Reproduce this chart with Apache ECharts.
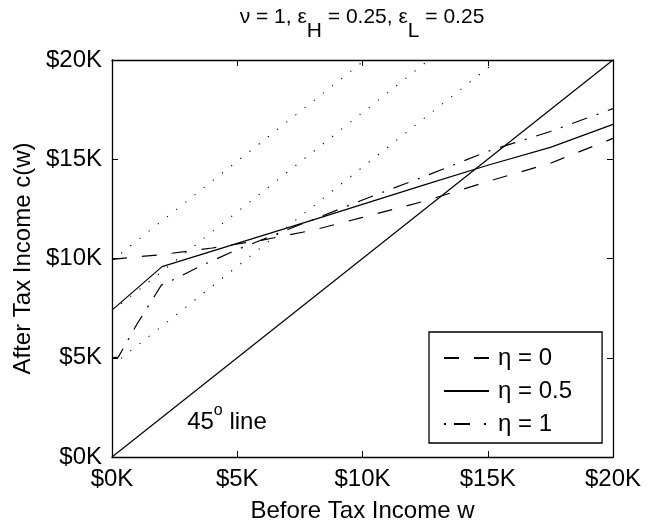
<!DOCTYPE html>
<html>
<head>
<meta charset="utf-8">
<script src="https://cdn.jsdelivr.net/npm/echarts@6/dist/echarts.min.js"></script>
<style>html,body{margin:0;padding:0;background:#fff}#c{width:648px;height:531px}</style>
</head>
<body>
<div id="c"></div>
<script>
// Values in thousands of dollars
const tickValues = [0, 5, 10, 15, 20];
const seriesNames = ['η = 0', 'η = 0.5', 'η = 1'];

const wEta0 = [0, 2, 4, 6, 8, 10, 12.5, 15, 17.5, 20];
const cEta0 = [9.96, 10.2, 10.53, 10.93, 11.42, 12.07, 12.9, 13.88, 14.8, 16.05];

const wEta05 = [0, 2, 8, 12.5, 15, 17.5, 20];
const cEta05 = [7.4, 9.59, 11.93, 13.72, 14.7, 15.6, 16.76];

const wEta1 = [0, 0.25, 1, 1.97, 2.4, 3.5, 5, 6.5, 8, 10, 12.5, 15, 17.5, 20];
const cEta1 = [5.0, 5.03, 6.7, 8.66, 8.9, 9.6, 10.45, 11.2, 11.95, 12.95, 14.15, 15.4, 16.4, 17.55];

const line45W = [0, 20];
const line45C = [0, 20];

const dottedIntercepts = [9.9, 7.35, 4.6];

const annotationW = [3.0];
const annotationC = [1.95];

const FONT = "'Liberation Sans', Arial, Helvetica, sans-serif";
const FS = 24;

function pairs(w, c) { return w.map((v, i) => [v, c[i]]); }

const chart = echarts.init(document.getElementById('c'), null, {renderer: 'canvas'});

const dottedSeries = dottedIntercepts.map((b) => ({
  type: 'line', name: 'dotted' + b, data: [[0, b], [20 - b, 20]],
  symbol: 'none', silent: true,
  lineStyle: {color: '#000', width: 1.1, type: [1.2, 10.5]}
}));

const axisCommon = {
  type: 'value', min: 0, max: 20, interval: 5,
  splitLine: {show: false},
  axisLine: {show: true, onZero: false, lineStyle: {color: '#000', width: 1.3}},
  axisTick: {show: true, inside: true, length: 6, lineStyle: {color: '#000', width: 1}}
};

chart.setOption({
  animation: false,
  backgroundColor: '#fff',
  textStyle: {fontFamily: FONT},
  title: {
    text: '{m|ν = 1, ε}{s|H}{m| = 0.25, ε}{s|L}{m| = 0.25}',
    left: 362, top: 7, textAlign: 'center', padding: 0,
    textStyle: {
      fontFamily: FONT, fontSize: 21, fontWeight: 'normal', color: '#000', lineHeight: 35,
      rich: {
        m: {fontFamily: FONT, fontSize: 21, color: '#000', verticalAlign: 'top'},
        s: {fontFamily: FONT, fontSize: 21, color: '#000', verticalAlign: 'bottom'}
      }
    }
  },
  grid: {left: 112, right: 35, top: 60, bottom: 74, containLabel: false, outerBoundsMode: 'none'},
  legend: {
    orient: 'vertical', left: 429, top: 332,
    data: [
      {name: seriesNames[0]},
      {name: seriesNames[1]},
      {name: seriesNames[2], lineStyle: {type: [2, 8, 16, 14]}}
    ],
    itemWidth: 45, itemHeight: 20, itemGap: 9,
    padding: [14, 30, 7, 14],
    itemStyle: {color: 'rgba(0,0,0,0)', borderWidth: 0, opacity: 0},
    borderColor: '#000', borderWidth: 1.3, backgroundColor: '#fff',
    textStyle: {fontFamily: FONT, fontSize: FS, color: '#000', padding: [0, 0, 0, 4]}
  },
  xAxis: [
    Object.assign({}, axisCommon, {
      position: 'bottom',
      name: 'Before Tax Income w', nameLocation: 'middle', nameGap: 42,
      nameTextStyle: {fontFamily: FONT, fontSize: FS, color: '#000'},
      axisLabel: {fontFamily: FONT, fontSize: FS, color: '#000', margin: 10,
        formatter: (v) => '$' + v + 'K'}
    }),
    Object.assign({}, axisCommon, {position: 'top', axisLabel: {show: false}})
  ],
  yAxis: [
    Object.assign({}, axisCommon, {
      position: 'left',
      name: 'After Tax Income c(w)', nameLocation: 'middle', nameGap: 76,
      nameTextStyle: {fontFamily: FONT, fontSize: FS, color: '#000'},
      axisLabel: {fontFamily: FONT, fontSize: FS, color: '#000', margin: 10,
        formatter: (v) => '$' + v + 'K'}
    }),
    Object.assign({}, axisCommon, {position: 'right', axisLabel: {show: false}})
  ],
  series: [
    ...dottedSeries,
    {
      type: 'line', name: '45 line', data: pairs(line45W, line45C), symbol: 'none',
      lineStyle: {color: '#000', width: 1.2, type: 'solid'}
    },
    {
      type: 'line', name: seriesNames[0], data: pairs(wEta0, cEta0), symbol: 'none',
      itemStyle: {color: '#000'},
      lineStyle: {color: '#000', width: 1.2, type: [15, 15]}
    },
    {
      type: 'line', name: seriesNames[1], data: pairs(wEta05, cEta05), symbol: 'none',
      itemStyle: {color: '#000'},
      lineStyle: {color: '#000', width: 1.2, type: 'solid'}
    },
    {
      type: 'line', name: seriesNames[2], data: pairs(wEta1, cEta1), symbol: 'none',
      itemStyle: {color: '#000'},
      lineStyle: {color: '#000', width: 1.2, type: [16, 10, 2, 10]}
    },
    {
      type: 'scatter', name: 'annotation', data: pairs(annotationW, annotationC),
      symbolSize: 0, silent: true,
      itemStyle: {opacity: 1, color: '#000'},
      label: {
        show: true, position: 'right', distance: 0, opacity: 1,
        formatter: '{n|45}{p|o}{n| line}',
        lineHeight: 32,
        rich: {
          n: {fontFamily: FONT, fontSize: FS, color: '#000', verticalAlign: 'bottom'},
          p: {fontFamily: FONT, fontSize: 16, color: '#000', verticalAlign: 'top'}
        }
      }
    }
  ]
});
</script>
</body>
</html>
